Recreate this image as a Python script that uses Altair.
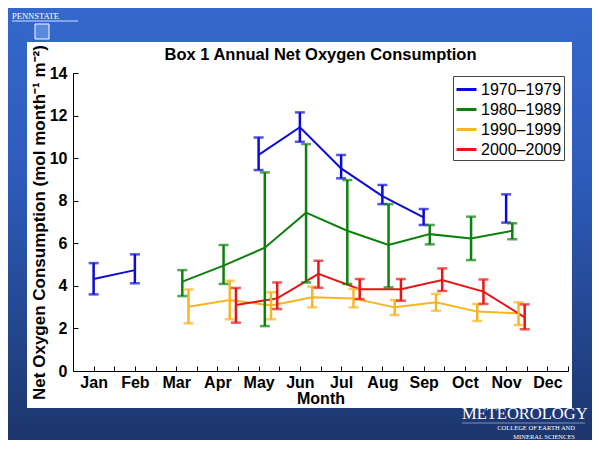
import altair as alt
import pandas as pd

# ---------------- data ----------------
months = ["Jan", "Feb", "Mar", "Apr", "May", "Jun", "Jul", "Aug", "Sep", "Oct", "Nov", "Dec"]
series_names = ["1970–1979", "1980–1989", "1990–1999", "2000–2009"]
colors = ["#0b0bd6", "#0c800c", "#f9b421", "#ea1414"]
offsets = [0.0, 0.15, 0.3, 0.45]
chart_title = "Box 1 Annual Net Oxygen Consumption"

s1970_month = [1, 2, 5, 6, 7, 8, 9, 11]
s1970_mean = [4.32, 4.74, 10.15, 11.45, 9.52, 8.22, 7.22, 7.64]
s1970_low = [3.60, 4.12, 9.44, 10.77, 9.05, 7.84, 6.86, 6.97]
s1970_high = [5.07, 5.48, 10.97, 12.15, 10.15, 8.74, 7.61, 8.30]
s1970_seg = [1, 1, 2, 2, 2, 2, 2, 3]

s1980_month = [3, 4, 5, 6, 7, 8, 9, 10, 11]
s1980_mean = [4.20, 4.95, 5.79, 7.44, 6.59, 5.92, 6.43, 6.23, 6.59]
s1980_low = [3.52, 4.09, 2.11, 4.16, 4.09, 3.93, 5.95, 5.21, 6.19]
s1980_high = [4.74, 5.92, 9.33, 10.66, 8.97, 7.84, 6.86, 7.25, 6.94]

s1990_month = [3, 4, 5, 6, 7, 8, 9, 10, 11]
s1990_mean = [3.02, 3.33, 3.08, 3.46, 3.41, 2.99, 3.23, 2.79, 2.71]
s1990_low = [2.24, 2.43, 2.43, 2.99, 2.99, 2.63, 2.83, 2.35, 2.16]
s1990_high = [3.83, 4.24, 3.70, 3.96, 3.85, 3.33, 3.62, 3.15, 3.23]

s2000_month = [4, 5, 6, 7, 8, 9, 10, 11]
s2000_mean = [3.10, 3.41, 4.56, 3.84, 3.84, 4.27, 3.73, 2.52]
s2000_low = [2.27, 2.91, 3.91, 3.38, 3.30, 3.76, 3.15, 1.96]
s2000_high = [3.90, 4.16, 5.18, 4.32, 4.32, 4.82, 4.30, 3.13]

y_ticks = [0, 2, 4, 6, 8, 10, 12, 14]

# ---------------- table ----------------
rows = []
all_series = [
    (s1970_month, s1970_mean, s1970_low, s1970_high, s1970_seg),
    (s1980_month, s1980_mean, s1980_low, s1980_high, [1] * len(s1980_month)),
    (s1990_month, s1990_mean, s1990_low, s1990_high, [1] * len(s1990_month)),
    (s2000_month, s2000_mean, s2000_low, s2000_high, [1] * len(s2000_month)),
]
for i, (mo, me, lo, hi, sg) in enumerate(all_series):
    for m, a, l, h, s in zip(mo, me, lo, hi, sg):
        rows.append({"series": series_names[i], "x": m + offsets[i], "mean": a,
                     "low": l, "high": h, "seg": f"{i}-{s}"})
df = pd.DataFrame(rows)
one = pd.DataFrame({"k": [0]})

W, H = 495, 298
FONT = "Liberation Sans"

x_scale = alt.Scale(domain=[0.5, 12.5], nice=False, zero=False)
y_scale = alt.Scale(domain=[0, 14], nice=False)
color_scale = alt.Scale(domain=series_names, range=colors)

label_expr = "[" + ",".join(f"'{m}'" for m in months) + "][datum.value - 1]"

main_x = alt.Axis(values=list(range(1, 13)), labelExpr=label_expr, ticks=False, tickSize=0,
                  labelPadding=3, title="Month", titlePadding=0, orient="bottom", zindex=1)
main_y = alt.Axis(values=y_ticks, ticks=False, tickSize=0, labelPadding=6,
                  title="Net Oxygen Consumption (mol month⁻¹ m⁻²)", titlePadding=1,
                  titleFontSize=17, orient="left", zindex=1)
tick_x = alt.Axis(orient="top", offset=-H, values=[1 + 0.5 * i for i in range(24)],
                  labels=False, domain=False, tickSize=5, title=None, zindex=1)
tick_y = alt.Axis(orient="right", offset=-W, values=y_ticks,
                  labels=False, domain=False, tickSize=5, title=None, zindex=1)


# ---------------- slide decoration (blue frame around the white chart panel) ----------------
def grad(c0, c1):
    return alt.Gradient(gradient="linear", x1=0, x2=0, y1=0, y2=1,
                        stops=[alt.GradientStop(color=c0, offset=0),
                               alt.GradientStop(color=c1, offset=1)])


full_grad = alt.Gradient(gradient="linear", x1=0, x2=0, y1=0, y2=1,
                         stops=[alt.GradientStop(color="#3468cc", offset=0),
                                alt.GradientStop(color="#2d5bba", offset=0.4),
                                alt.GradientStop(color="#1c366c", offset=1)])

band_left = alt.Chart(one).mark_rect(fill=full_grad).encode(
    x=alt.value(-65), x2=alt.value(-46), y=alt.value(-65), y2=alt.value(367))
band_right = alt.Chart(one).mark_rect(fill=full_grad).encode(
    x=alt.value(499), x2=alt.value(519), y=alt.value(-65), y2=alt.value(367))
band_top = alt.Chart(one).mark_rect(fill=grad("#3468cc", "#3366c8")).encode(
    x=alt.value(-46), x2=alt.value(499), y=alt.value(-65), y2=alt.value(-31))
band_bottom = alt.Chart(one).mark_rect(fill=grad("#1e3a76", "#1c366c")).encode(
    x=alt.value(-46), x2=alt.value(499), y=alt.value(335), y2=alt.value(367))

penn = alt.Chart(one).mark_text(font="Liberation Serif", fontSize=8.5, color="white",
                                align="left", baseline="middle").encode(
    x=alt.value(-61), y=alt.value(-57), text=alt.value("PENNSTATE"))
penn_line = alt.Chart(one).mark_rule(color="white", strokeWidth=0.8).encode(
    x=alt.value(-61), x2=alt.value(5), y=alt.value(-52))
shield = alt.Chart(one).mark_rect(fill="#5b89de", stroke="white", strokeWidth=1).encode(
    x=alt.value(-38), x2=alt.value(-24), y=alt.value(-49), y2=alt.value(-34))

meteo = alt.Chart(one).mark_text(font="Liberation Serif", fontSize=16.5, color="white",
                                 align="left", baseline="middle").encode(
    x=alt.value(389), y=alt.value(341), text=alt.value("METEOROLOGY"))
meteo_line = alt.Chart(one).mark_rule(color="#9aa9c9", strokeWidth=0.8).encode(
    x=alt.value(389), x2=alt.value(512), y=alt.value(350))
meteo_sub1 = alt.Chart(one).mark_text(font="Liberation Serif", fontSize=6.5, color="white",
                                      align="right", baseline="middle").encode(
    x=alt.value(502), y=alt.value(355), text=alt.value("COLLEGE OF EARTH AND"))
meteo_sub2 = alt.Chart(one).mark_text(font="Liberation Serif", fontSize=6.5, color="white",
                                      align="right", baseline="middle").encode(
    x=alt.value(502), y=alt.value(364), text=alt.value("MINERAL SCIENCES"))

title_mark = alt.Chart(one).mark_text(font=FONT, fontSize=16.5, fontWeight="bold", color="black",
                                      align="center", baseline="alphabetic").encode(
    x=alt.value(W / 2), y=alt.value(-13), text=alt.value(chart_title))

# ---------------- data marks ----------------
lines = alt.Chart(df).mark_line(strokeWidth=2).encode(
    x=alt.X("x:Q", scale=x_scale, axis=main_x),
    y=alt.Y("mean:Q", scale=y_scale, axis=main_y),
    color=alt.Color("series:N", scale=color_scale, legend=alt.Legend(
        title=None, orient="none", legendX=380, legendY=3, symbolType="stroke",
        symbolSize=400, symbolStrokeWidth=3, labelFontSize=16, labelFont=FONT,
        labelColor="black", strokeColor="#444444", fillColor="white", padding=2,
        rowPadding=0, labelOffset=3, zindex=1)),
    detail="seg:N",
)

rules = alt.Chart(df).mark_rule(strokeWidth=2.5).encode(
    x=alt.X("x:Q", scale=x_scale, axis=None),
    y=alt.Y("low:Q", scale=y_scale, axis=None),
    y2="high:Q",
    color=alt.Color("series:N", scale=color_scale, legend=None),
)

caps = alt.Chart(df).transform_fold(["low", "high"], as_=["end", "val"]).mark_tick(
    orient="horizontal", size=10, thickness=2.5).encode(
    x=alt.X("x:Q", scale=x_scale, axis=tick_x),
    y=alt.Y("val:Q", scale=y_scale, axis=tick_y),
    color=alt.Color("series:N", scale=color_scale, legend=None),
)

chart = alt.layer(
    band_left, band_right, band_top, band_bottom,
    penn, penn_line, shield, meteo, meteo_line, meteo_sub1, meteo_sub2, title_mark,
    lines, rules, caps
).properties(
    width=W, height=H, autosize="none",
    padding={"left": 65, "top": 65, "right": 24, "bottom": 69},
    background="white",
).configure_view(stroke=None).configure_axis(
    labelFont=FONT, labelFontSize=16, labelFontWeight="bold", labelColor="black",
    titleFont=FONT, titleFontSize=16, titleFontWeight="bold", titleColor="black",
    domainColor="black", domainWidth=1, tickColor="black", tickWidth=1, grid=False,
)

chart.save("out.html", embed_options={"renderer": "svg", "actions": False})
